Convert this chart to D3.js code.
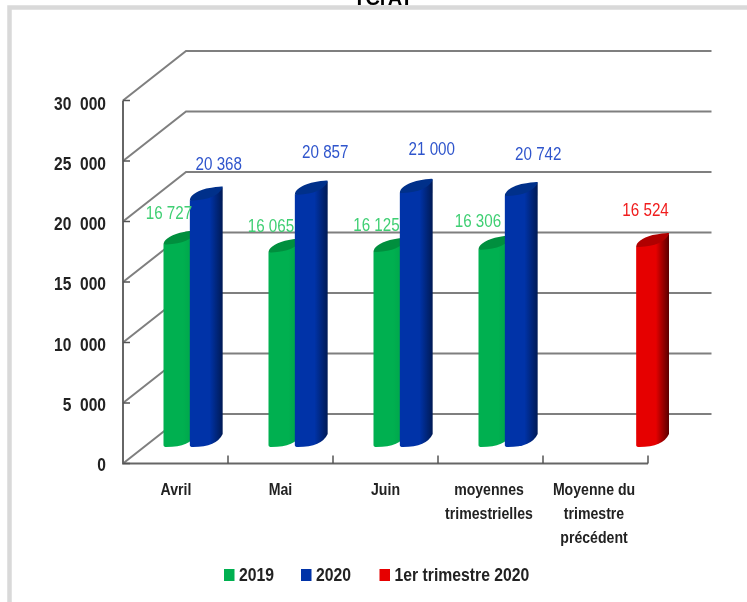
<!DOCTYPE html>
<html><head><meta charset="utf-8">
<script src="https://cdn.jsdelivr.net/npm/d3@7"></script>
<style>html,body{margin:0;padding:0;background:#fff}svg{display:block;filter:blur(0.45px)}</style>
</head><body><svg id="c" width="747" height="602"></svg>
<script>
const categories = ["Avril","Mai","Juin","moyennes trimestrielles","Moyenne du trimestre précédent"];
const categoryLines = [["Avril"],["Mai"],["Juin"],["moyennes","trimestrielles"],["Moyenne du","trimestre","précédent"]];
const seriesNames = ["2019","2020","1er trimestre 2020"];
const values2019 = [16727,16065,16125,16306,null];
const values2020 = [20368,20857,21000,20742,null];
const valuesTrimestre = [null,null,null,null,16524];
const yTicks = [0,5000,10000,15000,20000,25000,30000];
const labelNudgeX = {"2019":[-11,-14,-13.5,-17,0],"2020":[12.5,14,15.5,17,0],"1er trimestre 2020":[0,0,0,0,-7]};
const labelNudgeY = {"2019":[-26,-21,-21,-23,0],"2020":[-31,-37,-38,-36,0],"1er trimestre 2020":[0,0,0,0,-31]};
const frontColor = ["#00b050","#0033a8","#e60000"];
const topColor = ["#008f3e","#00308a","#b00000"];
const edgeColor = ["#00a048","#001a55","#5a0000"];
const labelColor = ["#3fcf73","#2f55cc","#f01c1c"];

const svg = d3.select("#c");
const SANS = "'Liberation Sans',sans-serif";
const depthX = 63, depthY = 49.5;
const x = d3.scaleBand().domain(categories).range([123,648]);
const y = d3.scaleLinear().domain([0,30000]).range([463.5,100.5]);
const yText = d3.scaleLinear().domain([0,30000]).range([471,109.5]);
const s = d3.scaleBand().domain(seriesNames).range([40.5,119.5]);
const seriesValues = [values2019,values2020,valuesTrimestre];
const place = (sel,px,py,k)=>sel.attr("transform",`translate(${px},${py}) scale(${k},1)`);

// clipped title, then frame
svg.append("text").attr("x",383).attr("y",5).attr("text-anchor","middle")
  .attr("font-family",SANS).attr("font-weight","bold").attr("font-size",20).attr("fill","#000").text("TCrAT");
svg.append("path").attr("d","M9.5,602V7.5H747").attr("fill","none").attr("stroke","#d9d9d9").attr("stroke-width",4.5);

// gridlines
const g = svg.append("g").attr("fill","none").attr("stroke","#7f7f7f").attr("stroke-width",2);
g.selectAll(".w").data(yTicks).join("path")
  .attr("d",d=>d3.line()([[x.range()[0],y(d)],[x.range()[0]+depthX,y(d)-depthY],[711.5,y(d)-depthY]]));
g.append("path").attr("d",d3.line()([[123,y(30000)],[123,y(0)],[648,y(0)]])).attr("stroke","#666");
const t = svg.append("g").attr("stroke","#555").attr("stroke-width",1.5).attr("fill","none");
t.selectAll(".yt").data(yTicks).join("line").attr("x1",123).attr("x2",130).attr("y1",d=>y(d)).attr("y2",d=>y(d));
t.selectAll(".xt").data(categories).join("line").attr("x1",d=>x(d)+x.bandwidth()).attr("x2",d=>x(d)+x.bandwidth()).attr("y1",y(0)).attr("y2",y(0)-8);

// gradients
const defs = svg.append("defs");
seriesNames.forEach((n,i)=>{
  const lg = defs.append("linearGradient").attr("id","g"+i);
  lg.append("stop").attr("offset","0").attr("stop-color",frontColor[i]);
  lg.append("stop").attr("offset","0.6").attr("stop-color",frontColor[i]);
  lg.append("stop").attr("offset","1").attr("stop-color",edgeColor[i]);
});

// cylinders
const barW = s.bandwidth()+6.5, floorY = 16.5, slant = 13;
seriesNames.forEach((n,i)=>{
  const bars = svg.append("g");
  categories.forEach((c,j)=>{
    const v = seriesValues[i][j];
    if (v==null) return;
    const x0 = x(c)+s(n), x1 = x0+barW;
    const yb = y(0)-floorY, yt = y(v)-floorY;
    bars.append("path").attr("fill",`url(#g${i})`)
      .attr("d",`M${x0},${yt}L${x0},${yb-2}Q${x0},${yb} ${x0+3},${yb}Q${x1-6},${yb} ${x1},${yb-slant}L${x1},${yt-slant}Z`);
    bars.append("path").attr("fill",topColor[i])
      .attr("d",`M${x0},${yt}Q${x0},${yt-slant*0.55} ${x0+barW*0.5},${yt-slant*0.92}Q${x1-3},${yt-slant-1.5} ${x1},${yt-slant-1}L${x1},${yt-slant}Q${x1-6},${yt-1} ${x0+3},${yt}Z`);
  });
});

// data labels
seriesNames.forEach((n,i)=>{
  categories.forEach((c,j)=>{
    const v = seriesValues[i][j];
    if (v==null) return;
    svg.append("text").attr("text-anchor","middle")
      .call(place,x(c)+s(n)+barW/2+labelNudgeX[n][j],y(v)-floorY+labelNudgeY[n][j],0.8)
      .attr("font-family",SANS).attr("font-size",19).attr("fill",labelColor[i])
      .text(String(v).replace(/(\d{2})(\d{3})/,"$1 $2"));
  });
});

// axes text
const fmt = d=> d===0?"0":String(d/1000)+"\u00a0\u00a0000";
svg.append("g").selectAll("text").data(yTicks).join("text").each(function(d){d3.select(this).call(place,106,yText(d),0.82);})
  .attr("text-anchor","end").attr("font-family",SANS).attr("font-weight","bold").attr("font-size",19).attr("fill","#222").text(fmt);
const cats = svg.append("g");
categoryLines.forEach((lines,j)=>{
  lines.forEach((l,k)=>{
    cats.append("text").call(place,x(categories[j])+x.bandwidth()/2+[0.5,0,0,-1.5,-1.5][j],495+k*24,0.83)
      .attr("text-anchor","middle").attr("font-family",SANS).attr("font-weight","bold").attr("font-size",17).attr("fill","#222").text(l);
  });
});

// legend
const legendX = d3.scaleOrdinal().domain(seriesNames).range([224,301,379.5]);
const leg = svg.append("g").selectAll("g").data(seriesNames).join("g").attr("transform",d=>`translate(${legendX(d)},569)`);
leg.append("rect").attr("width",10.5).attr("height",12).attr("fill",(d,i)=>["#00b050","#0033a8","#e60000"][i]);
leg.append("text").attr("transform","translate(15,12) scale(0.83,1)").attr("font-family",SANS).attr("font-weight","bold").attr("font-size",19).attr("fill","#222").text(d=>d);
</script></body></html>
